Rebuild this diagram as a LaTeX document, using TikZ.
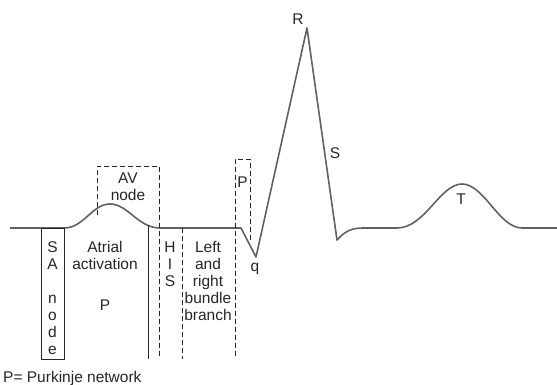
\documentclass[tikz,border=0pt]{standalone}
\usepackage{fontspec}
\setmainfont{Liberation Sans}
\usetikzlibrary{positioning}

\begin{document}
\begin{tikzpicture}[
  x=1pt, y=-1pt,
  font=\fontsize{15.5}{17}\selectfont,
  lbl/.style={inner sep=0pt, align=center, text=black!85},
  wave/.style={draw=black!62, line width=1.6pt, line join=round},
  zone/.style={draw=black!85, line width=0.9pt},
  dzone/.style={zone, dash pattern=on 5pt off 3pt}
]
\useasboundingbox (0,0) rectangle (557,385);
% ECG trace
\draw[wave] (10,228) -- (64,228)
  .. controls (84,228) and (92,204) .. (110,204)
  .. controls (128,204) and (138,228) .. (160,228) -- (241,228)
  -- (256,257) -- (307,28) -- (337,240)
  .. controls (345,231) and (352,228) .. (363,228) -- (397,228)
  .. controls (425,228) and (440,184) .. (462,184)
  .. controls (484,184) and (499,228) .. (522,228) -- (557,228);
% conduction zones
\draw[zone] (41,228) rectangle (64,359);
\draw[zone] (148,225) -- (148,359);
\draw[dzone] (97,215) -- (97,166) -- (159,166) -- (159,359);
\draw[dzone] (182,228) -- (182,359);
\draw[dzone] (250,240) -- (250,159) -- (235,159) -- (235,359);
% labels
\node[lbl, anchor=north] (sa) at (52.5,241.5) {S\\A\\[17pt]n\\o\\d\\e};
\node[lbl, anchor=north] (atrial) at (105,241.5) {Atrial\\activation};
\node[lbl] (patr) at (105,305) {P};
\node[lbl, anchor=north] (av) at (128,172.5) {AV\\node};
\node[lbl, anchor=north] (his) at (170,241.5) {H\\I\\S};
\node[lbl, anchor=north] (bundle) at (208,241.5) {Left\\and\\right\\bundle\\branch};
\node[lbl] (pk) at (242.5,182) {P};
\node[lbl] (q) at (255,269) {q};
\node[lbl] (r) at (298,19) {R};
\node[lbl] (s) at (335,153) {S};
\node[lbl] (t) at (461,199) {T};
\node[lbl, anchor=west] (note) at (3,378) {P= Purkinje network};
\end{tikzpicture}
\end{document}
